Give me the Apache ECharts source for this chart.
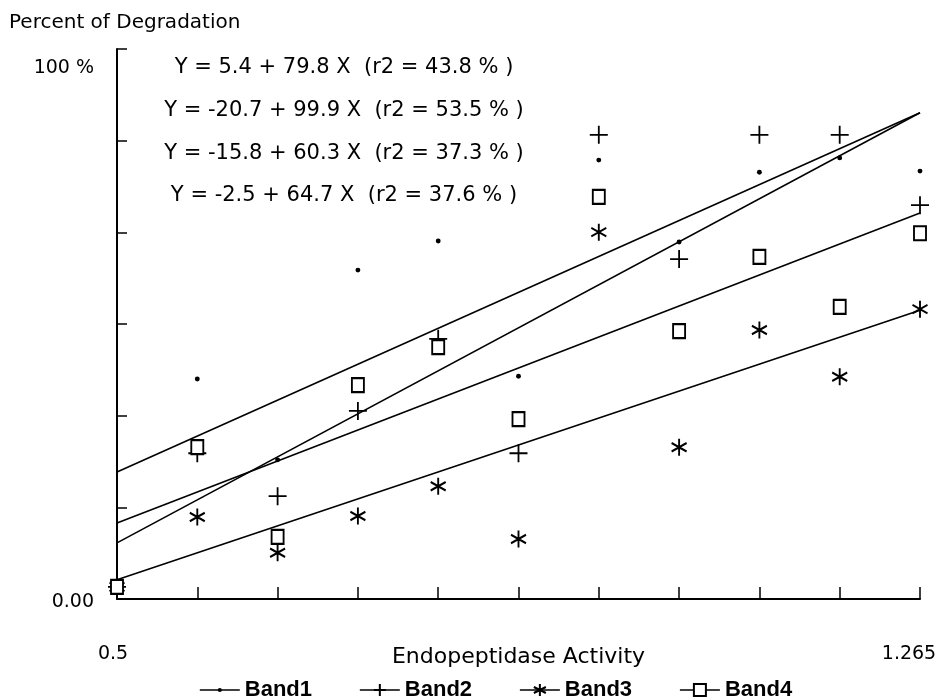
<!DOCTYPE html>
<html><head><meta charset="utf-8">
<script src="https://cdn.jsdelivr.net/npm/echarts@6/dist/echarts.min.js"></script>
<style>html,body{margin:0;padding:0;background:#fff}#c{width:937px;height:700px}</style>
</head><body><div id="c"></div>
<script>
// ---- data ----
const xValues = [0.5, 0.5765, 0.653, 0.7295, 0.806, 0.8825, 0.959, 1.0355, 1.112, 1.1885, 1.265];
const band1 = [2.2, 40.0, 25.3, 59.8, 65.1, 40.5, 79.8, 64.9, 77.6, 80.2, 77.8];
const band2 = [2.2, 26.5, 18.7, 34.2, 47.3, 26.5, 84.4, 61.8, 84.4, 84.4, 71.6];
const band3 = [2.2, 14.9, 8.4, 15.1, 20.5, 10.9, 66.7, 27.6, 48.9, 40.4, 52.7];
const band4 = [2.2, 27.6, 11.3, 38.9, 45.8, 32.7, 73.1, 48.7, 62.2, 53.1, 66.5];
const fit1 = [[0.5, 23.1], [1.265, 88.4]];
const fit2 = [[0.5, 10.2], [1.265, 88.4]];
const fit3 = [[0.5, 3.5], [1.265, 52.5]];
const fit4 = [[0.5, 13.8], [1.265, 70.2]];
const seriesNames = ['Band1', 'Band2', 'Band3', 'Band4'];
const equations = [
  'Y = 5.4 + 79.8 X  (r2 = 43.8 % )',
  'Y = -20.7 + 99.9 X  (r2 = 53.5 % )',
  'Y = -15.8 + 60.3 X  (r2 = 37.3 % )',
  'Y = -2.5 + 64.7 X  (r2 = 37.6 % )'
];
const xTickLabels = ['0.5', '1.265'];
const yTickLabels = ['0.00', '100 %'];
const titleText = 'Percent of Degradation';
const xAxisTitle = 'Endopeptidase Activity';

// ---- styling ----
const FONT = 'DejaVu Sans';
const symbols = [
  'path://M0,0 M20,20 M10,6.5 A3.5,3.5 0 1 1 10,13.5 A3.5,3.5 0 1 1 10,6.5 Z',
  'path://M0,10 L20,10 M10,0 L10,20',
  'path://M10,0 L10,20 M1.34,5 L18.66,15 M1.34,15 L18.66,5',
  'path://M0,0 L12,0 L12,14 L0,14 Z'
];
const symbolSizes = [14, 18, [15, 17], [12, 14]];
const markStyles = [
  {color: '#000', borderWidth: 0, opacity: 1},
  {color: '#000', borderColor: '#000', borderWidth: 1.8, opacity: 1},
  {color: '#000', borderColor: '#000', borderWidth: 2, opacity: 1},
  {color: '#fff', borderColor: '#000', borderWidth: 2, opacity: 1}
];
const bands = [band1, band2, band3, band4];
const fits = [fit1, fit2, fit3, fit4];

const series = [];
seriesNames.forEach((name, i) => {
  series.push({
    name: name, type: 'line', data: fits[i],
    symbol: symbols[i], symbolSize: symbolSizes[i], showSymbol: false,
    itemStyle: markStyles[i],
    lineStyle: {color: '#000', width: 1.6},
    z: 2, silent: true, animation: false
  });
});
seriesNames.forEach((name, i) => {
  series.push({
    name: name, type: 'scatter',
    data: xValues.map((x, j) => [x, bands[i][j]]),
    symbol: symbols[i], symbolSize: symbolSizes[i],
    itemStyle: markStyles[i], z: 3, animation: false
  });
});

const chart = echarts.init(document.getElementById('c'), null, {renderer: 'canvas'});
chart.setOption({
  backgroundColor: '#fff',
  animation: false,
  title: {
    text: titleText, left: 4, top: 8,
    textStyle: {fontFamily: FONT, fontSize: 20, fontWeight: 'normal', color: '#000'}
  },
  grid: {left: 117, right: 17, top: 49, bottom: 101, containLabel: false, outerBoundsMode: 'none'},
  xAxis: {
    type: 'value', min: 0.5, max: 1.265, interval: 0.0765,
    name: xAxisTitle, nameLocation: 'middle', nameGap: 47, nameMoveOverlap: false,
    nameTextStyle: {fontFamily: FONT, fontSize: 22, color: '#000'},
    axisLine: {lineStyle: {color: '#000', width: 2}},
    axisTick: {inside: true, length: 12, lineStyle: {color: '#000', width: 1.5}},
    splitLine: {show: false},
    axisLabel: {
      margin: 46, fontFamily: FONT, fontSize: 19, color: '#000', showMinLabel: true, showMaxLabel: true,
      hideOverlap: false,
      formatter: v => Math.abs(v - 0.5) < 1e-6 ? '{l|' + xTickLabels[0] + '}' : (Math.abs(v - 1.265) < 1e-6 ? '{r|' + xTickLabels[1] + '}' : ''),
      rich: {
        l: {fontFamily: FONT, fontSize: 19, color: '#000', padding: [0, 8, 0, 0]},
        r: {fontFamily: FONT, fontSize: 19, color: '#000', padding: [0, 22, 0, 0]}
      }
    }
  },
  yAxis: {
    type: 'value', min: 0, max: 100, interval: 100 / 6,
    axisLine: {show: true, lineStyle: {color: '#000', width: 2}},
    axisTick: {show: true, inside: true, length: 10, lineStyle: {color: '#000', width: 1.5}},
    splitLine: {show: false},
    axisLabel: {
      margin: 23, fontFamily: FONT, fontSize: 19, color: '#000', showMinLabel: true, showMaxLabel: true,
      formatter: v => v < 1e-6 ? '{b|' + yTickLabels[0] + '}' : (Math.abs(v - 100) < 1e-3 ? '{t|' + yTickLabels[1] + '}' : ''),
      rich: {
        t: {fontFamily: FONT, fontSize: 19, color: '#000', padding: [38, 0, 0, 0]},
        b: {fontFamily: FONT, fontSize: 19, color: '#000', padding: [6, 0, 0, 0]}
      }
    }
  },
  legend: {
    data: seriesNames, left: 194, top: 674, itemWidth: 40, itemHeight: 15, itemGap: 47,
    textStyle: {fontFamily: 'Liberation Sans', fontSize: 22, fontWeight: 'bold', color: '#000'},
    lineStyle: {color: '#000', width: 1.6}
  },
  graphic: equations.map((t, i) => ({
    type: 'text',
    style: {text: t, x: 344, y: [68, 111, 154, 196][i], textAlign: 'center', textVerticalAlign: 'middle',
      font: '21px "DejaVu Sans"', fill: '#000'}
  })),
  series: series
});
</script></body></html>
